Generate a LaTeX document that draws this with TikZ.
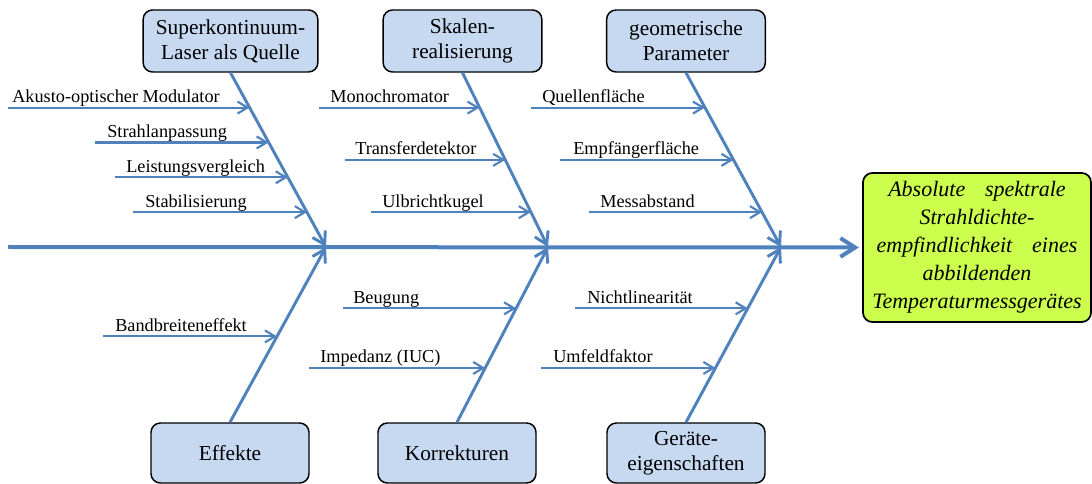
\documentclass[tikz,border=0pt]{standalone}
\usepackage{fontspec}
\setmainfont{Liberation Serif}
\usetikzlibrary{arrows.meta,calc}

\definecolor{fishblue}{RGB}{79,129,189}
\definecolor{causefill}{RGB}{198,217,241}
\definecolor{effectfill}{RGB}{204,255,77}

\tikzset{
	cause/.style={draw=black, line width=1.1pt, rounded corners=7pt, fill=causefill, align=center, inner sep=3pt, minimum height=46.5pt, font=\fontsize{16}{19}\selectfont},
	effect/.style={draw=black, line width=1.3pt, rounded corners=7pt, fill=effectfill, align=center, inner sep=2pt, minimum width=171pt, minimum height=111.75pt, font=\fontsize{16.5}{21}\selectfont\itshape},
	spine/.style={draw=fishblue, line width=3pt, -{Straight Barb[length=11pt,width=14pt]}},
	bone/.style={draw=fishblue, line width=2.2pt, -{Straight Barb[length=9pt,width=11pt]}},
	spoke/.style={draw=fishblue, line width=1.6pt, -{Straight Barb[length=7.5pt,width=9pt]}},
	lbl/.style={anchor=base west, inner sep=0pt, font=\fontsize{13.7}{16}\selectfont}
}

\begin{document}
\begin{tikzpicture}[x=0.75pt,y=-0.75pt]
	\useasboundingbox (0,0) rectangle (1092,484);
	%cause boxes
		\node[cause, minimum width=131pt] (laser) at (230.5,41) {Superkontinuum-\\Laser als Quelle};
		\node[cause, minimum width=119pt] (skala) at (462.5,41) {Skalen-\\realisierung};
		\node[cause, minimum width=119pt] (geom) at (686,41) {geometrische\\Parameter};
		\node[cause, minimum width=118.5pt, minimum height=45pt] (effekt) at (230,453) {Effekte};
		\node[cause, minimum width=118.5pt, minimum height=45pt] (korr) at (457,453) {Korrekturen};
		\node[cause, minimum width=118.5pt, minimum height=45pt] (geraet) at (686,453) {Geräte-\\eigenschaften};
	%effect box
		\node[effect] (ziel) at (977,247.5) {Absolute\hspace{0.9em}spektrale\\Strahldichte-\\empfindlichkeit\hspace{0.9em}eines\\abbildenden\\Temperaturmessgerätes};
	%spine
		\coordinate (start) at (8,247);
		\draw[spine, shorten >=2.5pt] (start) -- (ziel.west);
	%bones
		\coordinate (j1) at (326,247);
		\coordinate (j2) at (548,247);
		\coordinate (j3) at (781,247);
		\draw[bone] (laser.south) -- (j1);
		\draw[bone] (skala.south) -- (j2);
		\draw[bone] (geom.south) -- (j3);
		\draw[bone] (effekt.north) -- (j1);
		\draw[bone] (korr.north) -- (j2);
		\draw[bone] (geraet.north) -- (j3);
	%spokes laser
		\coordinate (a1) at ($(laser.south)!0.2!(j1)$);
		\coordinate (a2) at ($(laser.south)!0.4!(j1)$);
		\coordinate (a3) at ($(laser.south)!0.6!(j1)$);
		\coordinate (a4) at ($(laser.south)!0.8!(j1)$);
		\coordinate (a1s) at (a1 -| 8,0);
		\coordinate (a2s) at (a2 -| 95,0);
		\coordinate (a3s) at (a3 -| 115,0);
		\coordinate (a4s) at (a4 -| 133,0);
		\draw[spoke] (a1s) -- (a1);
		\draw[spoke] (a2s) -- (a2);
		\draw[spoke] (a3s) -- (a3);
		\draw[spoke] (a4s) -- (a4);
		\node[lbl] (a1t) at ($(a1s)+(4,-5)$) {Akusto-optischer Modulator};
		\node[lbl] (a2t) at ($(a2s)+(12,-5)$) {Strahlanpassung};
		\node[lbl] (a3t) at ($(a3s)+(11,-5)$) {Leistungsvergleich};
		\node[lbl] (a4t) at ($(a4s)+(12,-5)$) {Stabilisierung};
	%spokes skala
		\coordinate (b1) at ($(skala.south)!0.2!(j2)$);
		\coordinate (b2) at ($(skala.south)!0.5!(j2)$);
		\coordinate (b3) at ($(skala.south)!0.8!(j2)$);
		\coordinate (b1s) at (b1 -| 319,0);
		\coordinate (b2s) at (b2 -| 345,0);
		\coordinate (b3s) at (b3 -| 371,0);
		\draw[spoke] (b1s) -- (b1);
		\draw[spoke] (b2s) -- (b2);
		\draw[spoke] (b3s) -- (b3);
		\node[lbl] (b1t) at ($(b1s)+(11,-5)$) {Monochromator};
		\node[lbl] (b2t) at ($(b2s)+(10,-5)$) {Transferdetektor};
		\node[lbl] (b3t) at ($(b3s)+(11,-5)$) {Ulbrichtkugel};
	%spokes geom
		\coordinate (c1) at ($(geom.south)!0.2!(j3)$);
		\coordinate (c2) at ($(geom.south)!0.5!(j3)$);
		\coordinate (c3) at ($(geom.south)!0.8!(j3)$);
		\coordinate (c1s) at (c1 -| 531,0);
		\coordinate (c2s) at (c2 -| 560,0);
		\coordinate (c3s) at (c3 -| 589,0);
		\draw[spoke] (c1s) -- (c1);
		\draw[spoke] (c2s) -- (c2);
		\draw[spoke] (c3s) -- (c3);
		\node[lbl] (c1t) at ($(c1s)+(11,-5)$) {Quellenfläche};
		\node[lbl] (c2t) at ($(c2s)+(13,-5)$) {Empfängerfläche};
		\node[lbl] (c3t) at ($(c3s)+(11,-5)$) {Messabstand};
	%spokes below
		\coordinate (d1) at ($(effekt.north)!0.49!(j1)$);
		\coordinate (e1) at ($(korr.north)!0.65!(j2)$);
		\coordinate (e2) at ($(korr.north)!0.31!(j2)$);
		\coordinate (f1) at ($(geraet.north)!0.65!(j3)$);
		\coordinate (f2) at ($(geraet.north)!0.31!(j3)$);
		\coordinate (d1s) at (d1 -| 103,0);
		\coordinate (e1s) at (e1 -| 343,0);
		\coordinate (e2s) at (e2 -| 309,0);
		\coordinate (f1s) at (f1 -| 575,0);
		\coordinate (f2s) at (f2 -| 541,0);
		\draw[spoke] (d1s) -- (d1);
		\draw[spoke] (e1s) -- (e1);
		\draw[spoke] (e2s) -- (e2);
		\draw[spoke] (f1s) -- (f1);
		\draw[spoke] (f2s) -- (f2);
		\node[lbl] (d1t) at ($(d1s)+(12,-5)$) {Bandbreiteneffekt};
		\node[lbl] (e1t) at ($(e1s)+(10,-5)$) {Beugung};
		\node[lbl] (e2t) at ($(e2s)+(11,-5)$) {Impedanz (IUC)};
		\node[lbl] (f1t) at ($(f1s)+(12,-5)$) {Nichtlinearität};
		\node[lbl] (f2t) at ($(f2s)+(12,-5)$) {Umfeldfaktor};
\end{tikzpicture}
\end{document}
